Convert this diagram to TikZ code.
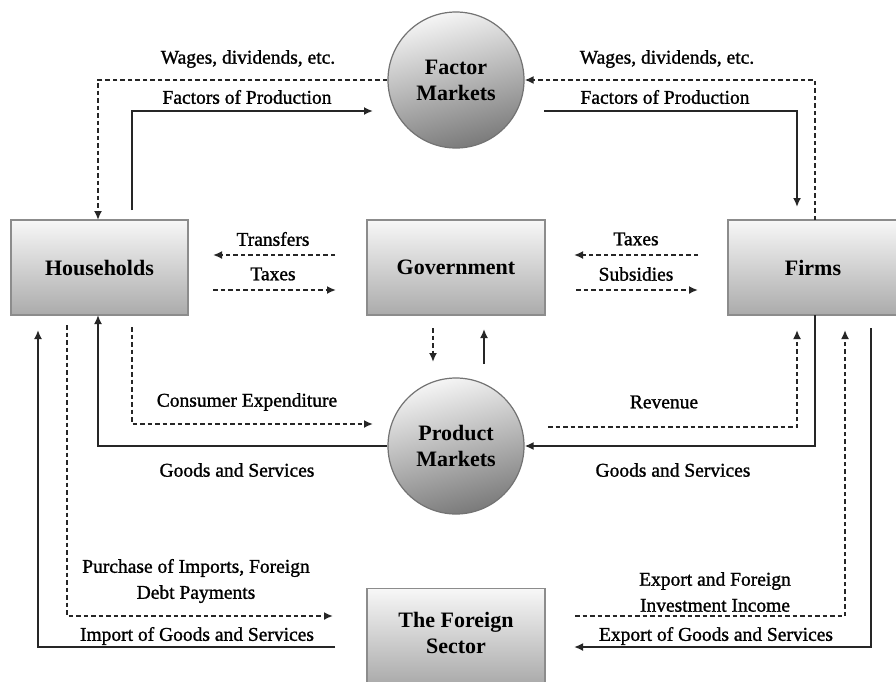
\documentclass[tikz,border=0pt]{standalone}
\usepackage{fontspec}
\setmainfont{Liberation Serif}
\newfontfamily\lblfont[FakeBold=1.2]{Liberation Serif}
\usetikzlibrary{arrows.meta,calc}
\tikzset{
  sectorbox/.style={rectangle, draw=black!45, line width=1.2pt, top color=black!3, bottom color=black!33, minimum height=95pt, inner sep=0pt},
  market/.style={circle, draw=black!55, line width=1.2pt, top color=black!4, bottom color=black!52, shading angle=15, minimum size=136pt, inner sep=0pt},
  ttl/.style={font=\fontsize{22}{26}\selectfont\bfseries, align=center},
  lbl/.style={font=\lblfont\fontsize{19.5}{26}\selectfont, align=center, inner sep=0pt},
  flow/.style={line width=2.2pt, draw=black!85, -{Latex[length=9pt,width=8pt]}},
  money/.style={line width=1.8pt, draw=black!85, dash pattern=on 4.5pt off 3pt, -{Latex[length=9pt,width=8pt]}},
}
\begin{document}
\begin{tikzpicture}[x=1pt,y=-1pt]
\useasboundingbox (0,0) rectangle (896,681);
\fill[white] (0,0) rectangle (896,681);
% nodes
\node[sectorbox, minimum width=177pt] (hh) at (99.5,267.5) {};
\node[ttl] (hht) at (hh.center) {Households};
\node[sectorbox, minimum width=178pt] (gov) at (456,267.5) {};
\node[ttl] (govt) at (gov.center) {Government};
\node[sectorbox, minimum width=176pt] (firm) at (816,267.5) {};
\node[ttl] (firmt) at (813,267.5) {Firms};
\node[sectorbox, minimum width=178pt] (fs) at (456,636) {};
\node[ttl] (fst) at (456,633) {The Foreign\\Sector};
\node[market] (fm) at (456,80) {};
\node[ttl] (fmt) at (fm.center) {Factor\\Markets};
\node[market] (pm) at (456,446) {};
\node[ttl] (pmt) at (pm.center) {Product\\Markets};
% coordinates
\coordinate (a1) at (132,210);
\coordinate (a2) at (373,111);
\coordinate (b1) at (544,111);
\coordinate (b2) at (797,207);
\coordinate (t1) at (335,255); \coordinate (t2) at (213,255);
\coordinate (t3) at (213,290); \coordinate (t4) at (336,290);
\coordinate (s1) at (698,255); \coordinate (s2) at (574,255);
\coordinate (s3) at (576,290); \coordinate (s4) at (698,290);
\coordinate (g1) at (433,328); \coordinate (g2) at (433,362);
\coordinate (g3) at (484,364); \coordinate (g4) at (484,329);
\coordinate (c1) at (132,327); \coordinate (c2) at (373,424);
\coordinate (r1) at (548,427); \coordinate (r2) at (797,330);
\coordinate (p1) at (67,325); \coordinate (p2) at (333,616);
\coordinate (i1) at (335,647); \coordinate (i2) at (38,330);
\coordinate (e1) at (575,616); \coordinate (e2) at (845,330);
\coordinate (x1) at (871,328); \coordinate (x2) at (574,647);
% connectors
\draw[money] (fm.west) -| (98,220);
\draw[flow] (a1) |- (a2);
\draw[money] (815,220) |- (fm.east);
\draw[flow] (b1) -| (b2);
\draw[money] (t1) -- (t2);
\draw[money] (t3) -- (t4);
\draw[money] (s1) -- (s2);
\draw[money] (s3) -- (s4);
\draw[money] (g1) -- (g2);
\draw[flow] (g3) -- (g4);
\draw[money] (c1) |- (c2);
\draw[flow] (pm.west) -| (98,315);
\draw[money] (r1) -| (r2);
\draw[flow] (815,315) |- (pm.east);
\draw[money] (p1) |- (p2);
\draw[flow] (i1) -| (i2);
\draw[money] (e1) -| (e2);
\draw[flow] (x1) |- (x2);
% labels
\node[lbl] (l1) at (248,59) {Wages, dividends, etc.};
\node[lbl] (l2) at (247,97) {Factors of Production};
\node[lbl] (l3) at (667,59) {Wages, dividends, etc.};
\node[lbl] (l4) at (665,97) {Factors of Production};
\node[lbl] (l5) at (273,239) {Transfers};
\node[lbl] (l6) at (273,274) {Taxes};
\node[lbl] (l7) at (636,239) {Taxes};
\node[lbl] (l8) at (636,274) {Subsidies};
\node[lbl] (l9) at (247,402) {Consumer Expenditure};
\node[lbl] (l10) at (237,470) {Goods and Services};
\node[lbl] (l11) at (664,402) {Revenue};
\node[lbl] (l12) at (673,470) {Goods and Services};
\node[lbl] (l13) at (196,581) {Purchase of Imports, Foreign\\Debt Payments};
\node[lbl] (l14) at (197,636) {Import of Goods and Services};
\node[lbl] (l15) at (715,592) {Export and Foreign\\Investment Income};
\node[lbl] (l16) at (716,636) {Export of Goods and Services};
\end{tikzpicture}
\end{document}
